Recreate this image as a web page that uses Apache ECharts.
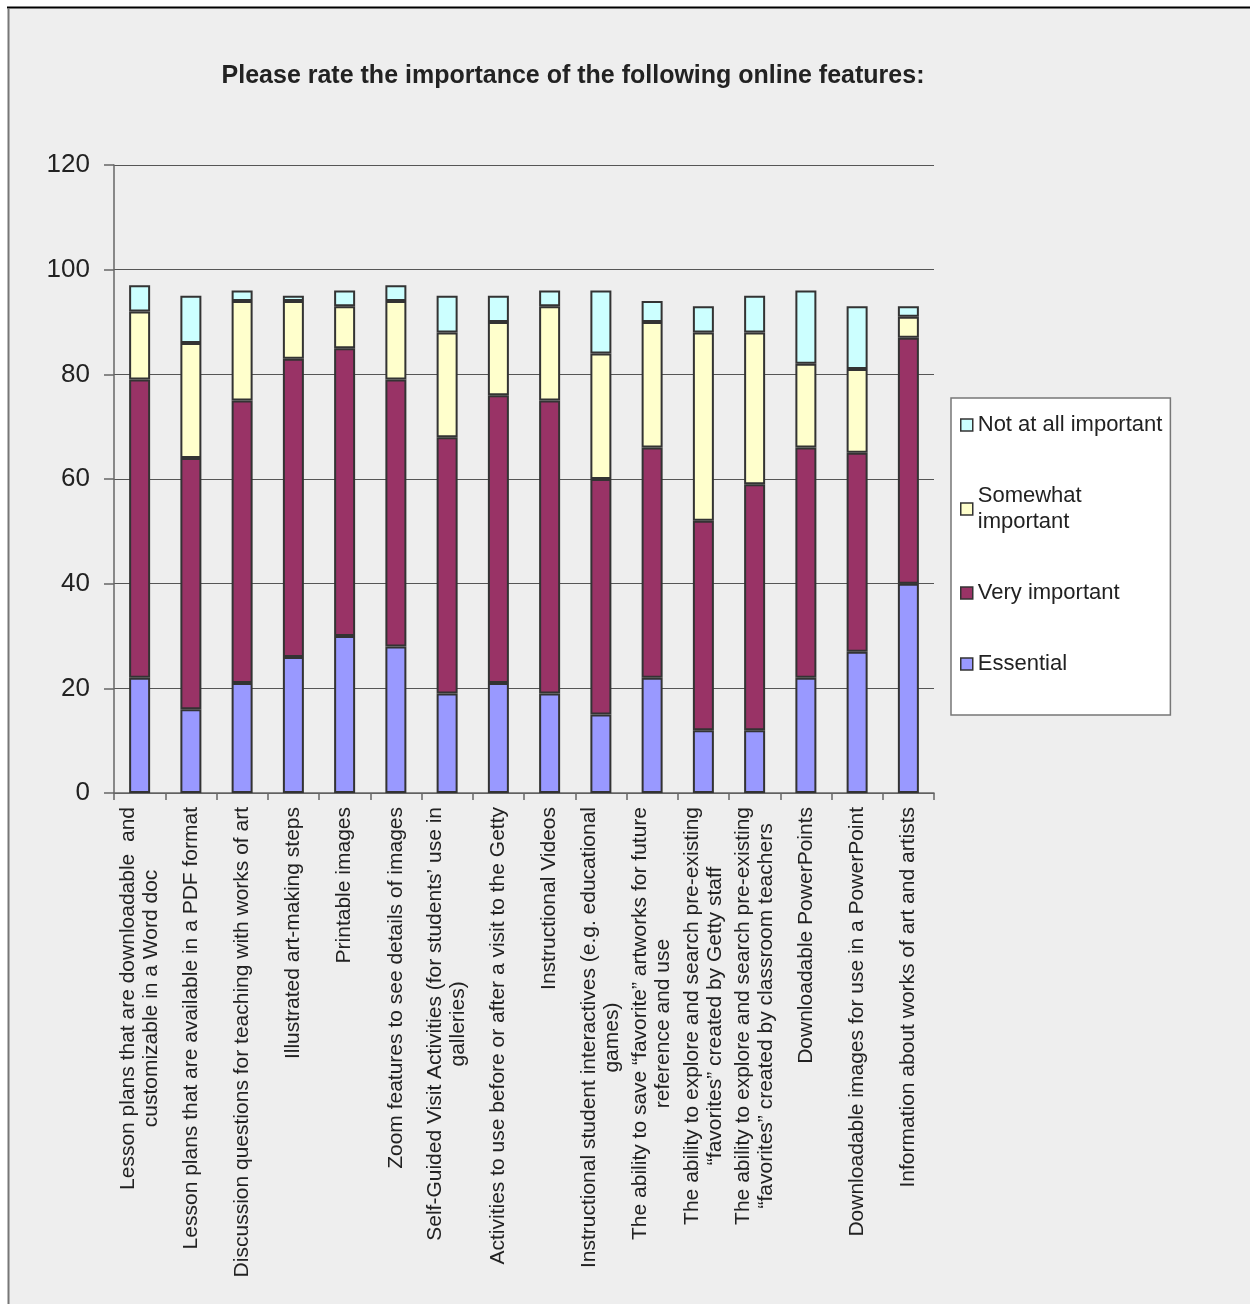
<!DOCTYPE html>
<html>
<head>
<meta charset="utf-8">
<title>Online features rating</title>
<script src="https://cdn.jsdelivr.net/npm/echarts@6/dist/echarts.min.js"></script>
<style>
    html, body { margin: 0; padding: 0; background: #fff; }
    #chart { width: 1250px; height: 1304px; }
</style>
</head>
<body>
<div id="chart"></div>
<script>
const categories = [
    'Lesson plans that are downloadable  and\ncustomizable in a Word doc',
    'Lesson plans that are available in a PDF format',
    'Discussion questions for teaching with works of art',
    'Illustrated art-making steps',
    'Printable images',
    'Zoom features to see details of images',
    'Self-Guided Visit Activities (for students\u2019 use in\ngalleries)',
    'Activities to use before or after a visit to the Getty',
    'Instructional Videos',
    'Instructional student interactives (e.g. educational\ngames)',
    'The ability to save \u201cfavorite\u201d artworks for future\nreference and use',
    'The ability to explore and search pre-existing\n\u201cfavorites\u201d created by Getty staff',
    'The ability to explore and search pre-existing\n\u201cfavorites\u201d created by classroom teachers',
    'Downloadable PowerPoints',
    'Downloadable images for use in a PowerPoint',
    'Information about works of art and artists'
];

const essential = [22, 16, 21, 26, 30, 28, 19, 21, 19, 15, 22, 12, 12, 22, 27, 40];
const veryImportant = [57, 48, 54, 57, 55, 51, 49, 55, 56, 45, 44, 40, 47, 44, 38, 47];
const somewhatImportant = [13, 22, 19, 11, 8, 15, 20, 14, 18, 24, 24, 36, 29, 16, 16, 4];
const notAtAllImportant = [5, 9, 2, 1, 3, 3, 7, 5, 3, 12, 4, 5, 7, 14, 12, 2];

const yTicks = [0, 20, 40, 60, 80, 100, 120];

const FONT = '"Liberation Sans", Arial, sans-serif';

// one stacked segment
const makeSeries = (name, data, color) => ({
    name: name,
    type: 'bar',
    stack: 'total',
    barWidth: 21,
    data: data,
    itemStyle: { color: color, borderColor: '#333', borderWidth: 2 }
});

// centre every line of a wrapped label inside its block
const centerLines = value => value.split('\n').map(l => '{c|' + l + '}').join('\n');

const chart = echarts.init(document.getElementById('chart'), null, { renderer: 'canvas' });

const option = {
    backgroundColor: '#fff',
    animation: false,
    textStyle: { fontFamily: FONT },
    graphic: [
        { type: 'rect', z: -10, shape: { x: 8, y: 8, width: 1250, height: 1304 }, style: { fill: '#eeeeee' } },
        { type: 'line', shape: { x1: 7, y1: 7.5, x2: 1250, y2: 7.5 }, style: { stroke: '#000', lineWidth: 2 } },
        { type: 'line', shape: { x1: 8.5, y1: 8, x2: 8.5, y2: 1304 }, style: { stroke: '#777', lineWidth: 2 } }
    ],
    title: {
        text: 'Please rate the importance of the following online features:',
        left: 568,
        textAlign: 'center',
        top: 59,
        textStyle: { fontFamily: FONT, fontSize: 25, fontWeight: 'bold', color: '#222' }
    },
    legend: {
        orient: 'vertical',
        left: 951,
        top: 398,
        padding: [14, 8, 38, 9],
        backgroundColor: '#fff',
        borderColor: '#777',
        borderWidth: 1.5,
        borderRadius: 0,
        itemGap: 45,
        itemWidth: 12,
        itemHeight: 12,
        icon: 'rect',
        itemStyle: { borderColor: '#333', borderWidth: 1.5 },
        data: ['Not at all important', 'Somewhat important', 'Very important', 'Essential'],
        formatter: name => name === 'Somewhat important' ? 'Somewhat\nimportant' : name,
        textStyle: { fontFamily: FONT, fontSize: 22, lineHeight: 26, color: '#222' }
    },
    grid: { left: 114, right: 316, top: 165, bottom: 511, containLabel: false },
    xAxis: {
        type: 'category',
        data: categories,
        axisLine: { lineStyle: { color: '#666', width: 1.5 } },
        axisTick: { show: true, length: 7, lineStyle: { color: '#666', width: 1.5 } },
        axisLabel: {
            interval: 0,
            rotate: 90,
            margin: 14,
            color: '#222',
            fontFamily: FONT,
            fontSize: 21,
            lineHeight: 23,
            formatter: centerLines,
            rich: { c: { align: 'center', fontFamily: FONT, fontSize: 21, lineHeight: 23, color: '#222' } }
        }
    },
    yAxis: {
        type: 'value',
        min: yTicks[0],
        max: yTicks[yTicks.length - 1],
        interval: yTicks[1] - yTicks[0],
        axisLine: { show: true, lineStyle: { color: '#666', width: 1.5 } },
        axisTick: { show: true, length: 10, lineStyle: { color: '#666', width: 1.5 } },
        splitLine: { show: true, lineStyle: { color: '#555', width: 1.2 } },
        axisLabel: { margin: 24, color: '#222', fontFamily: FONT, fontSize: 26 }
    },
    series: [
        makeSeries('Essential', essential, '#9999ff'),
        makeSeries('Very important', veryImportant, '#993366'),
        makeSeries('Somewhat important', somewhatImportant, '#ffffcc'),
        makeSeries('Not at all important', notAtAllImportant, '#ccffff')
    ]
};

chart.setOption(option);
</script>
</body>
</html>
